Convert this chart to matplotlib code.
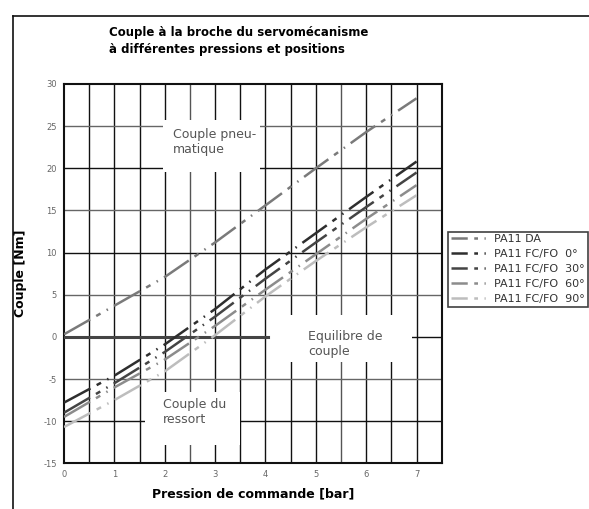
import matplotlib
matplotlib.use("Agg")
import matplotlib.pyplot as plt
from matplotlib.lines import Line2D
from matplotlib.patches import Rectangle

plt.rcParams["axes.unicode_minus"] = False

# Data
pressure = [0, 1, 2, 3, 4, 5, 6, 7]
series_names = ["PA11 DA", "PA11 FC/FO  0°", "PA11 FC/FO  30°", "PA11 FC/FO  60°", "PA11 FC/FO  90°"]
torque_da = [0.3, 3.7, 7.1, 11.2, 15.6, 20.0, 24.3, 28.3]
torque_0 = [-7.8, -4.6, -0.9, 3.3, 8.0, 12.3, 16.6, 20.8]
torque_30 = [-9.0, -5.5, -1.8, 2.4, 6.9, 11.2, 15.4, 19.5]
torque_60 = [-9.5, -6.0, -2.7, 1.3, 5.6, 9.8, 14.0, 18.0]
torque_90 = [-10.7, -7.5, -4.1, 0.2, 4.8, 9.0, 13.0, 16.8]
series = [torque_da, torque_0, torque_30, torque_60, torque_90]
colors = ["#7a7a7a", "#2e2e2e", "#444444", "#8c8c8c", "#bdbdbd"]

fig = plt.figure(figsize=(5.89, 5.09), dpi=100)
ax = fig.add_axes([0.1087, 0.0898, 0.6413, 0.7452])
ax.set_xlim(0, 7.5)
ax.set_ylim(-15, 30)

# grid
for i in range(1, 15):
    xv = i * 0.5
    c = "#555555" if i in (5, 11) else "#111111"
    ax.axvline(xv, color=c, lw=1.0, zorder=1)
for yv in range(-10, 30, 5):
    c = "#666666" if yv in (5, 15, 25, -5) else "#111111"
    ax.axhline(yv, color=c, lw=1.0, zorder=1)

# white label boxes
boxes = [(1.97, 19.6, 1.93, 6.1), (1.61, -12.8, 1.89, 6.2), (4.05, -3.0, 2.85, 5.6)]
for (bx, by, bw, bh) in boxes:
    ax.add_patch(Rectangle((bx, by), bw, bh, facecolor="white", edgecolor="none", zorder=2))

ax.plot([0, 4.05], [0, 0], color="#444444", lw=2.2, zorder=3)

ls = (0, (12, 2.8, 2, 2.8, 0.6, 2.8))
for name, vals, c in zip(series_names, series, colors):
    ax.plot(pressure, vals, color=c, lw=1.8, linestyle=ls, zorder=4, dash_capstyle="butt")

kw = dict(fontsize=9, color="#555555", va="center", ha="left", zorder=5, linespacing=1.2)
ax.text(2.17, 23.1, "Couple pneu-\nmatique", **kw)
ax.text(1.97, -8.9, "Couple du\nressort", **kw)
ax.text(4.85, -0.8, "Equilibre de\ncouple", **kw)

ax.set_xticks(pressure)
ax.set_yticks(range(-15, 31, 5))
ax.tick_params(length=0, labelsize=6, labelcolor="#666666", pad=5)
for s in ax.spines.values():
    s.set_linewidth(1.5)
    s.set_color("#111111")

ax.set_xlabel("Pression de commande [bar]", fontsize=9, fontweight="bold", labelpad=6)
ax.set_ylabel("Couple [Nm]", fontsize=9, fontweight="bold", labelpad=12)

fig.text(0.185, 0.919, "Couple à la broche du servomécanisme\nà différentes pressions et positions",
         fontsize=8.5, fontweight="bold", va="center", ha="left", linespacing=1.45)

leg_ls = (0, (6.5, 2.6, 1.5, 2.6, 0.5, 2.6))
handles = [Line2D([], [], color=c, lw=1.8, linestyle=leg_ls, dash_capstyle="butt") for c in colors]
leg = fig.legend(handles, series_names, loc="upper left", bbox_to_anchor=(0.761, 0.545), fontsize=8,
                 frameon=True, fancybox=False, edgecolor="#111111", handlelength=3.3,
                 borderpad=0.25, labelspacing=0.45, handletextpad=0.6, borderaxespad=0)
leg.get_frame().set_linewidth(1.2)
for t in leg.get_texts():
    t.set_color("#333333")

# outer frame
fig.add_artist(Line2D([13/589, 13/589], [0, 1 - 16/509], transform=fig.transFigure, color="#111111", lw=1.2))
fig.add_artist(Line2D([13/589, 1], [1 - 16/509, 1 - 16/509], transform=fig.transFigure, color="#111111", lw=1.2))

fig.savefig("out.png", dpi=100)
